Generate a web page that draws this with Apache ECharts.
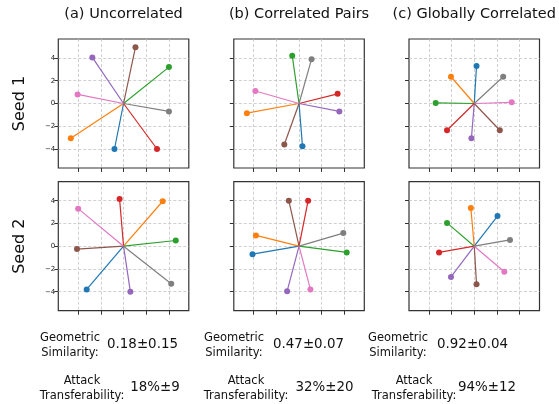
<!DOCTYPE html>
<html><head><meta charset="utf-8">
<script src="https://cdn.jsdelivr.net/npm/echarts@6/dist/echarts.min.js"></script>
<style>html,body{margin:0;padding:0;background:#fff}#c{width:559px;height:404px}</style>
</head><body><div id="c"></div>
<script>
// ---- data ----
const panelTitles = ['(a) Uncorrelated', '(b) Correlated Pairs', '(c) Globally Correlated'];
const rowLabels = ['Seed 1', 'Seed 2'];
const colorNames = ['blue', 'orange', 'green', 'red', 'purple', 'brown', 'pink', 'gray'];
const palette = ['#1f77b4', '#ff7f0e', '#2ca02c', '#d62728', '#9467bd', '#8c564b', '#e377c2', '#7f7f7f'];
// endpoints per vector, in colour order: blue, orange, green, red, purple, brown, pink, gray
const seed1Uncorrelated = [[-0.8,-4.0],[-4.65,-3.05],[4.0,3.2],[2.95,-4.0],[-2.75,4.05],[1.05,4.95],[-4.05,0.8],[4.0,-0.7]];
const seed1Pairs        = [[0.3,-3.75],[-4.6,-0.85],[-0.6,4.2],[3.4,0.85],[3.55,-0.7],[-1.3,-3.6],[-3.85,1.1],[1.1,3.9]];
const seed1Global       = [[0.2,3.3],[-2.05,2.35],[-3.4,0.05],[-2.4,-2.35],[-0.25,-3.05],[2.25,-2.35],[3.3,0.1],[2.55,2.35]];
const seed2Uncorrelated = [[-3.25,-3.8],[3.45,3.95],[4.6,0.5],[-0.35,4.15],[0.6,-4.0],[-4.1,-0.25],[-4.0,3.3],[4.2,-3.3]];
const seed2Pairs        = [[-4.1,-0.7],[-3.8,0.95],[4.2,-0.55],[0.8,4.0],[-1.05,-3.95],[-0.9,4.0],[1.0,-3.8],[3.9,1.15]];
const seed2Global       = [[2.05,2.65],[-0.3,3.35],[-2.4,2.05],[-3.1,-0.55],[-2.05,-2.7],[0.2,-3.35],[2.65,-2.25],[3.15,0.55]];
const panels = [seed1Uncorrelated, seed1Pairs, seed1Global, seed2Uncorrelated, seed2Pairs, seed2Global];
const tickValues = [-4, -2, 0, 2, 4];
const xRange = [-5.75, 5.75];
const yRange = [-5.67, 5.67];
const geoMean = [0.18, 0.47, 0.92], geoStd = [0.15, 0.07, 0.04];
const attMean = [18, 32, 94], attStd = [9, 20, 12];

// ---- layout ----
const colLeft = [58.3, 233.8, 409];
const rowTop = [39, 181.7];
const W = 130.5, H = 129;
const FONT = 'DejaVu Sans';
const minus = v => v < 0 ? '\u2212' + (-v) : String(v);

const grids = [], xAxes = [], yAxes = [], series = [];
for (let r = 0; r < 2; r++) for (let c = 0; c < 3; c++) {
  const i = r * 3 + c;
  grids.push({left: colLeft[c], top: rowTop[r], width: W, height: H, show: true,
    borderColor: '#333', borderWidth: 1.2, backgroundColor: 'transparent'});
  const common = {
    type: 'value', gridIndex: i,
    axisLine: {show: false, onZero: false},
    axisTick: {show: true, inside: false, length: 4, customValues: tickValues, lineStyle: {color: '#333', width: 1}},
    splitLine: {show: true, lineStyle: {color: '#c4c4c4', type: [3, 2], width: 0.8}},
  };
  xAxes.push(Object.assign({}, common, {min: xRange[0], max: xRange[1], position: 'bottom',
    axisLabel: {show: false, customValues: tickValues}}));
  yAxes.push(Object.assign({}, common, {min: yRange[0], max: yRange[1], position: 'left',
    axisLabel: {show: c === 0, customValues: tickValues, formatter: minus, fontFamily: FONT, fontSize: 7, color: '#222', margin: 3}}));
  panels[i].forEach((p, k) => {
    series.push({type: 'line', name: colorNames[k], xAxisIndex: i, yAxisIndex: i,
      data: [{value: [0, 0], symbol: 'none'}, {value: p}],
      symbol: 'circle', symbolSize: 6, showSymbol: true, silent: true, animation: false,
      lineStyle: {color: palette[k], width: 1.2}, itemStyle: {color: palette[k]}, z: 3});
  });
}

const graphic = [];
panelTitles.forEach((t, c) => graphic.push({type: 'text', x: colLeft[c] + W / 2, y: 14,
  style: {text: t, font: '14.5px ' + FONT, fill: '#111', align: 'center', verticalAlign: 'middle'}}));
rowLabels.forEach((t, r) => graphic.push({type: 'text', x: 20, y: rowTop[r] + H / 2, rotation: Math.PI / 2,
  style: {text: t, font: '16px ' + FONT, fill: '#111', align: 'center', verticalAlign: 'middle'}}));
const geoLabelX = [70, 234, 398], geoValX = [142.5, 308.5, 472.5];
const attLabelX = [82, 246, 414], attValX = [155, 324.5, 487];
for (let c = 0; c < 3; c++) {
  graphic.push({type: 'text', x: geoLabelX[c], y: 345.5,
    style: {text: 'Geometric\nSimilarity:', font: '11.5px ' + FONT, lineHeight: 14.5, fill: '#111', align: 'center', verticalAlign: 'middle'}});
  graphic.push({type: 'text', x: geoValX[c], y: 345,
    style: {text: geoMean[c].toFixed(2) + '±' + geoStd[c].toFixed(2), font: '13.4px ' + FONT, fill: '#111', align: 'center', verticalAlign: 'middle'}});
  graphic.push({type: 'text', x: attLabelX[c], y: 389,
    style: {text: 'Attack\nTransferability:', font: '11.5px ' + FONT, lineHeight: 15, fill: '#111', align: 'center', verticalAlign: 'middle'}});
  graphic.push({type: 'text', x: attValX[c], y: 388,
    style: {text: attMean[c] + '%±' + attStd[c], font: '13.4px ' + FONT, fill: '#111', align: 'center', verticalAlign: 'middle'}});
}

const chart = echarts.init(document.getElementById('c'), null, {renderer: 'canvas'});
chart.setOption({animation: false, grid: grids, xAxis: xAxes, yAxis: yAxes, series, graphic});
</script></body></html>
